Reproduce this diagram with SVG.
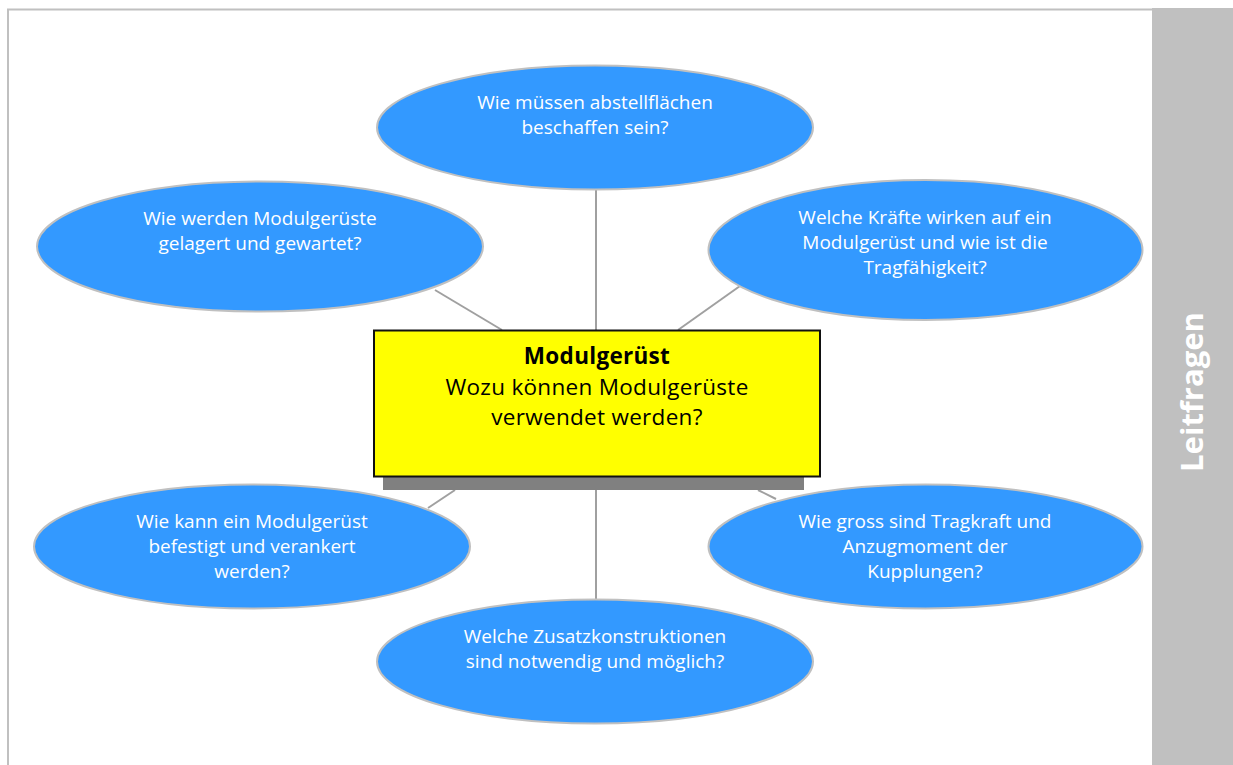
<svg xmlns="http://www.w3.org/2000/svg" width="1233" height="765" viewBox="0 0 1233 765">
<style>
.q{fill:#3399ff;stroke:#c0c0c0;stroke-width:2}
.qt{font-family:"Open Sans","Liberation Sans",sans-serif;font-size:19px;fill:#ffffff;text-anchor:middle}
.c{stroke:#a0a0a0;stroke-width:2;fill:none}
.mt{font-family:"Open Sans","Liberation Sans",sans-serif;font-size:22.5px;fill:#000;text-anchor:middle;letter-spacing:0.3px}
</style>
<rect x="0" y="0" width="1233" height="765" fill="#ffffff"/>
<g id="frame">
<path d="M8,765 V9.5 H1233" fill="none" stroke="#c0c0c0" stroke-width="2"/>
<rect x="1152" y="8" width="81" height="757" fill="#c0c0c0"/>
<text x="1203" y="392" transform="rotate(-90 1203 392)" text-anchor="middle" font-family="Open Sans,Liberation Sans,sans-serif" font-size="31" font-weight="bold" fill="#ffffff">Leitfragen</text>
</g>
<g id="connectors">
<line class="c" x1="596" y1="190" x2="596" y2="330"/>
<line class="c" x1="596" y1="490" x2="596" y2="600"/>
<line class="c" x1="435" y1="290" x2="502" y2="330"/>
<line class="c" x1="740" y1="286" x2="678" y2="330"/>
<line class="c" x1="455" y1="490" x2="428" y2="508"/>
<line class="c" x1="758" y1="490" x2="776" y2="499"/>
</g>
<g id="n-top">
<ellipse class="q" cx="595" cy="127.5" rx="218" ry="62"/>
<text class="qt"><tspan x="595" y="109">Wie müssen abstellflächen</tspan><tspan x="595" y="134">beschaffen sein?</tspan></text>
</g>
<g id="n-topleft">
<ellipse class="q" cx="260" cy="246.5" rx="223" ry="65"/>
<text class="qt"><tspan x="260" y="225">Wie werden Modulgerüste</tspan><tspan x="260" y="250">gelagert und gewartet?</tspan></text>
</g>
<g id="n-topright">
<ellipse class="q" cx="925.5" cy="250" rx="217" ry="70"/>
<text class="qt"><tspan x="925" y="224">Welche Kräfte wirken auf ein</tspan><tspan x="925" y="249">Modulgerüst und wie ist die</tspan><tspan x="925" y="274">Tragfähigkeit?</tspan></text>
</g>
<g id="n-botleft">
<ellipse class="q" cx="252" cy="546.5" rx="218" ry="62"/>
<text class="qt"><tspan x="252" y="528">Wie kann ein Modulgerüst</tspan><tspan x="252" y="553">befestigt und verankert</tspan><tspan x="252" y="578">werden?</tspan></text>
</g>
<g id="n-botright">
<ellipse class="q" cx="925.5" cy="546.5" rx="217" ry="62"/>
<text class="qt"><tspan x="925" y="528">Wie gross sind Tragkraft und</tspan><tspan x="925" y="553">Anzugmoment der</tspan><tspan x="925" y="578">Kupplungen?</tspan></text>
</g>
<g id="n-bottom">
<ellipse class="q" cx="595" cy="661.5" rx="218" ry="62"/>
<text class="qt"><tspan x="595" y="643">Welche Zusatzkonstruktionen</tspan><tspan x="595" y="668">sind notwendig und möglich?</tspan></text>
</g>
<g id="n-center">
<rect x="383" y="476" width="421" height="14" fill="#808080"/>
<rect x="374" y="330.5" width="446" height="146" fill="#ffff00" stroke="#111" stroke-width="2"/>
<text class="mt"><tspan x="597" y="364" font-weight="bold">Modulgerüst</tspan><tspan x="597" y="394.5">Wozu können Modulgerüste</tspan><tspan x="597" y="425">verwendet werden?</tspan></text>
</g>
</svg>
